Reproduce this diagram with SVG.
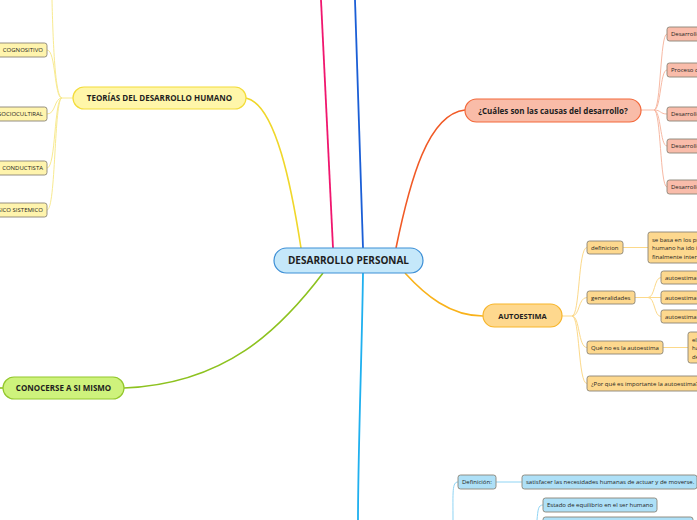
<svg xmlns="http://www.w3.org/2000/svg" width="697" height="520" viewBox="0 0 697 520">
<style>
text{font-family:"Open Sans","DejaVu Sans",sans-serif;fill:#1e1e1e}
.main{font-weight:bold}
.sm{font-size:6px}
.sub{stroke:#8a8577;stroke-width:0.9}
.y{fill:#fff4ad}
.o{fill:#f9bcaa}
.a{fill:#fdd88e}
.b{fill:#aee0f7}
</style>
<rect width="697" height="520" fill="#ffffff"/>
<g id="connectors" fill="none">
  <path d="M321,0 L333,248" stroke="#f0166e" stroke-width="1.8"/>
  <path d="M355,0 L363,248" stroke="#1a5ed6" stroke-width="1.8"/>
  <path d="M301,248 C292,190 276,104 246,98" stroke="#f0d72a" stroke-width="1.6"/>
  <path d="M396,248 C410,180 428,114 465,110" stroke="#f15a26" stroke-width="1.6"/>
  <path d="M405,273 C425,295 450,316 483,316" stroke="#f9b21a" stroke-width="1.6"/>
  <path d="M323,273 C280,330 225,384 124,388" stroke="#8dc21f" stroke-width="1.6"/>
  <path d="M3,388 L0,388" stroke="#8dc21f" stroke-width="1.6"/>
  <path d="M363,273 C362,350 358,450 358,520" stroke="#1fb0ef" stroke-width="1.8"/>
  <g stroke="#f8ea90" stroke-width="1">
    <path d="M73,98 L62,98"/>
    <path d="M62,98 C55,98 53,40 52,0"/>
    <path d="M62,98 C54,98 56,50 47,50"/>
    <path d="M62,98 C54,98 56,114 47,114"/>
    <path d="M62,98 C54,98 56,168 47,168"/>
    <path d="M62,98 C54,98 56,210 47,210"/>
  </g>
  <g stroke="#f7b9a4" stroke-width="1">
    <path d="M641,110 L654,110"/>
    <path d="M654,110 C661,110 660,34 667,34"/>
    <path d="M654,110 C661,110 660,70 667,70"/>
    <path d="M654,110 C661,110 660,114 667,114"/>
    <path d="M654,110 C661,110 660,146 667,146"/>
    <path d="M654,110 C661,110 660,187 667,187"/>
  </g>
  <g stroke="#fcd98a" stroke-width="1">
    <path d="M562,316 L572,316"/>
    <path d="M572,316 C580,316 578,247.5 587,247.5"/>
    <path d="M572,316 C580,316 578,297.5 587,297.5"/>
    <path d="M572,316 C580,316 578,347.5 587,347.5"/>
    <path d="M572,316 C580,316 578,383.5 587,383.5"/>
    <path d="M623,247.5 L648,247.5"/>
    <path d="M635,297.5 L648,297.5"/>
    <path d="M648,297.5 C655,297.5 654,277.5 661,277.5"/>
    <path d="M648,297.5 L661,297.5"/>
    <path d="M648,297.5 C655,297.5 654,316.5 661,316.5"/>
    <path d="M663,347.5 L688,347.5"/>
  </g>
  <g stroke="#8fd4f4" stroke-width="1">
    <path d="M453,520 C453,492 452,482 458,482"/>
    <path d="M496,482 L522,482"/>
    <path d="M537,520 C538,510 538,505 543,505"/>
  </g>
</g>
<g id="center">
  <rect x="274" y="248" width="149" height="25" rx="12.5" fill="#c5e8fa" stroke="#3d8fd6" stroke-width="1.2"/>
  <text x="348.5" y="264" font-size="10" class="main" text-anchor="middle">DESARROLLO PERSONAL</text>
</g>
<g id="teorias">
  <rect x="73" y="87" width="173" height="22" rx="11" fill="#fff6a9" stroke="#f3dc3a" stroke-width="1.2"/>
  <text x="159.5" y="101" font-size="8" class="main" text-anchor="middle">TEORÍAS DEL DESARROLLO HUMANO</text>
</g>
<g id="t1"><rect x="-40" y="43" width="87" height="14" rx="2.5" class="sub y"/><text x="43" y="52.3" class="sm" text-anchor="end">COGNOSITIVO</text></g>
<g id="t2"><rect x="-40" y="107" width="87" height="14" rx="2.5" class="sub y"/><text x="43" y="116.3" class="sm" text-anchor="end">SOCIOCULTIRAL</text></g>
<g id="t3"><rect x="-40" y="161" width="87" height="14" rx="2.5" class="sub y"/><text x="43" y="170.3" class="sm" text-anchor="end">CONDUCTISTA</text></g>
<g id="t4"><rect x="-40" y="203" width="87" height="14" rx="2.5" class="sub y"/><text x="43" y="212.3" class="sm" text-anchor="end">ECOLOGICO SISTEMICO</text></g>
<g id="causas">
  <rect x="465" y="99" width="176" height="23" rx="11.5" fill="#f9bca8" stroke="#f3683a" stroke-width="1.2"/>
  <text x="553" y="113.5" font-size="8" class="main" text-anchor="middle">¿Cuáles son las causas del desarrollo?</text>
</g>
<g id="c1"><rect x="667" y="27" width="60" height="14" rx="2.5" class="sub o"/><text x="671" y="36.3" class="sm">Desarrollo físico</text></g>
<g id="c2"><rect x="667" y="63" width="60" height="14" rx="2.5" class="sub o"/><text x="671" y="72.3" class="sm">Proceso de maduración</text></g>
<g id="c3"><rect x="667" y="107" width="60" height="14" rx="2.5" class="sub o"/><text x="671" y="116.3" class="sm">Desarrollo cognitivo</text></g>
<g id="c4"><rect x="667" y="139" width="60" height="14" rx="2.5" class="sub o"/><text x="671" y="148.3" class="sm">Desarrollo social</text></g>
<g id="c5"><rect x="667" y="180" width="60" height="14" rx="2.5" class="sub o"/><text x="671" y="189.3" class="sm">Desarrollo emocional</text></g>
<g id="autoestima">
  <rect x="483" y="304" width="79" height="23" rx="11.5" fill="#fed88e" stroke="#f7b52b" stroke-width="1.2"/>
  <text x="522.5" y="318.5" font-size="7.5" class="main" text-anchor="middle">AUTOESTIMA</text>
</g>
<g id="a1"><rect x="587" y="241" width="36" height="13" rx="2.5" class="sub a"/><text x="591" y="249.8" class="sm">definicion</text></g>
<g id="a1b"><rect x="648" y="232" width="60" height="31" rx="2.5" class="sub a"/>
  <text x="652" y="241.5" class="sm">se basa en los principios</text>
  <text x="652" y="250" class="sm">humano ha ido integrando</text>
  <text x="652" y="258.5" class="sm">finalmente interiorizando</text></g>
<g id="a2"><rect x="587" y="291" width="48" height="13" rx="2.5" class="sub a"/><text x="591" y="299.8" class="sm">generalidades</text></g>
<g id="a2a"><rect x="661" y="271" width="50" height="13" rx="2.5" class="sub a"/><text x="665" y="279.8" class="sm">autoestima alta</text></g>
<g id="a2b"><rect x="661" y="291" width="50" height="13" rx="2.5" class="sub a"/><text x="665" y="299.8" class="sm">autoestima media</text></g>
<g id="a2c"><rect x="661" y="310" width="50" height="13" rx="2.5" class="sub a"/><text x="665" y="318.8" class="sm">autoestima baja</text></g>
<g id="a3"><rect x="587" y="341" width="76" height="13" rx="2.5" class="sub a"/><text x="591" y="349.8" class="sm">Qué no es la autoestima</text></g>
<g id="a3b"><rect x="688" y="332" width="40" height="31" rx="2.5" class="sub a"/>
  <text x="692" y="341.5" class="sm">el</text>
  <text x="692" y="350" class="sm">hacer</text>
  <text x="692" y="358.5" class="sm">de</text></g>
<g id="a4"><rect x="587" y="376" width="130" height="15" rx="2.5" class="sub a"/><text x="591" y="385.8" class="sm">¿Por qué es importante la autoestima?</text></g>
<g id="conocerse">
  <rect x="3" y="377" width="121" height="22" rx="11" fill="#cef27c" stroke="#93c72c" stroke-width="1.2"/>
  <text x="63.5" y="391" font-size="8" class="main" text-anchor="middle">CONOCERSE A SI MISMO</text>
</g>
<g id="b1"><rect x="458" y="475" width="38" height="14" rx="2.5" class="sub b"/><text x="462" y="484.3" class="sm">Definición:</text></g>
<g id="b1b"><rect x="522" y="475" width="175" height="14" rx="2.5" class="sub b"/><text x="526" y="484.3" class="sm">satisfacer las necesidades humanas de actuar y de moverse.</text></g>
<g id="b2"><rect x="543" y="498" width="114" height="14" rx="2.5" class="sub b"/><text x="547" y="507.3" class="sm">Estado de equilibrio en el ser humano</text></g>
<g id="b3"><rect x="543" y="517" width="150" height="14" rx="2.5" class="sub b"/></g>
</svg>
